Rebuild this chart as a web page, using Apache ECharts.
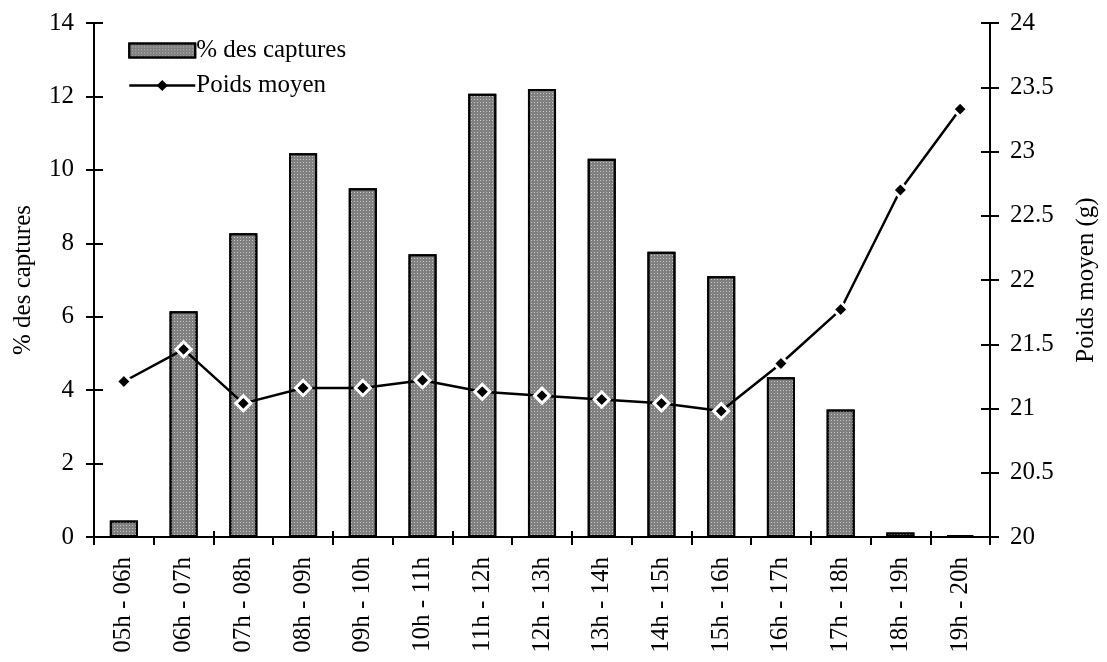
<!DOCTYPE html>
<html>
<head>
<meta charset="utf-8">
<script src="https://cdn.jsdelivr.net/npm/echarts@6/dist/echarts.min.js"></script>
<style>html,body{margin:0;padding:0;background:#fff}#c{width:1107px;height:662px}</style>
</head>
<body>
<div id="c"></div>
<script>
const categories = ['05h - 06h','06h - 07h','07h - 08h','08h - 09h','09h - 10h','10h - 11h','11h - 12h','12h - 13h','13h - 14h','14h - 15h','15h - 16h','16h - 17h','17h - 18h','18h - 19h','19h - 20h'];
const captures = [0.45, 6.15, 8.27, 10.45, 9.5, 7.7, 12.07, 12.2, 10.3, 7.77, 7.1, 4.35, 3.47, 0.12, 0.05];
const poids = [21.21, 21.46, 21.04, 21.16, 21.16, 21.22, 21.13, 21.10, 21.07, 21.04, 20.98, 21.35, 21.77, 22.70, 23.33];
const leftTicks = {min: 0, max: 14, interval: 2};
const rightTicks = {min: 20, max: 24, interval: 0.5};

const FONT = '"Liberation Serif", "Times New Roman", serif';
const chart = echarts.init(document.getElementById('c'), null, {renderer: 'canvas'});
const axisLine = {show: true, lineStyle: {color: '#000', width: 2}};
const txt = {color: '#000', fontFamily: FONT, fontSize: 25};
const nameTxt = {color: '#000', fontFamily: FONT, fontSize: 25};
chart.setOption({
  animation: false,
  grid: {left: 94, right: 115, top: 23, bottom: 125},
  legend: {
    orient: 'vertical', left: 123, top: 33, itemGap: 10,
    itemWidth: 66, itemHeight: 14,
    textStyle: {color: '#000', fontFamily: FONT, fontSize: 25, padding: [0,0,0,-4]},
    data: [
      {name: '% des captures', icon: 'rect'},
      {name: 'Poids moyen', lineStyle: {width: 2.5}, itemStyle: {borderWidth: 0}}
    ]
  },
  xAxis: [{
    type: 'category', data: categories, boundaryGap: true,
    axisLine: axisLine,
    axisTick: {show: true, inside: false, length: 8, lineStyle: {color: '#000', width: 2}},
    axisLabel: Object.assign({rotate: 90, margin: 20, interval: 0}, txt),
    splitLine: {show: false}
  }, {
    type: 'category', data: categories, boundaryGap: true, position: 'bottom',
    axisLine: {show: false},
    axisTick: {show: true, inside: true, length: 6, lineStyle: {color: '#000', width: 2}},
    axisLabel: {show: false}, splitLine: {show: false}
  }],
  yAxis: [{
    type: 'value', min: leftTicks.min, max: leftTicks.max, interval: leftTicks.interval,
    position: 'left',
    name: '% des captures', nameLocation: 'middle', nameRotate: 90, nameGap: 58,
    nameTextStyle: nameTxt,
    axisLine: axisLine,
    axisTick: {show: true, inside: false, length: 8, lineStyle: {color: '#000', width: 2}},
    axisLabel: Object.assign({margin: 20}, txt),
    splitLine: {show: false}
  }, {
    type: 'value', min: rightTicks.min, max: rightTicks.max, interval: rightTicks.interval,
    position: 'right',
    name: 'Poids moyen (g)', nameLocation: 'middle', nameRotate: 90, nameGap: 84,
    nameTextStyle: nameTxt,
    axisLine: axisLine,
    axisTick: {show: true, inside: false, length: 9, lineStyle: {color: '#000', width: 2}},
    axisLabel: Object.assign({margin: 20}, txt),
    splitLine: {show: false}
  }, {
    type: 'value', min: leftTicks.min, max: leftTicks.max, interval: leftTicks.interval,
    position: 'left', axisLine: {show: false},
    axisTick: {show: true, inside: true, length: 9, lineStyle: {color: '#000', width: 2}},
    axisLabel: {show: false}, splitLine: {show: false}
  }, {
    type: 'value', min: rightTicks.min, max: rightTicks.max, interval: rightTicks.interval,
    position: 'right', axisLine: {show: false},
    axisTick: {show: true, inside: true, length: 9, lineStyle: {color: '#000', width: 2}},
    axisLabel: {show: false}, splitLine: {show: false}
  }],
  series: [{
    name: '% des captures', type: 'bar', xAxisIndex: 0, yAxisIndex: 0,
    data: captures, barWidth: '47%',
    itemStyle: {
      color: '#808080', borderColor: '#000', borderWidth: 2,
      decal: {symbol: 'rect', symbolSize: 1, dashArrayX: [1, 2], dashArrayY: [1, 2], color: '#c4c4c4', rotation: 0}
    }
  }, {
    name: 'Poids moyen', type: 'line', xAxisIndex: 0, yAxisIndex: 1,
    data: poids, symbol: 'diamond', symbolSize: 15,
    lineStyle: {color: '#000', width: 2.5},
    itemStyle: {color: '#000', borderColor: '#fff', borderWidth: 3},
    z: 5
  }]
});
</script>
</body>
</html>
